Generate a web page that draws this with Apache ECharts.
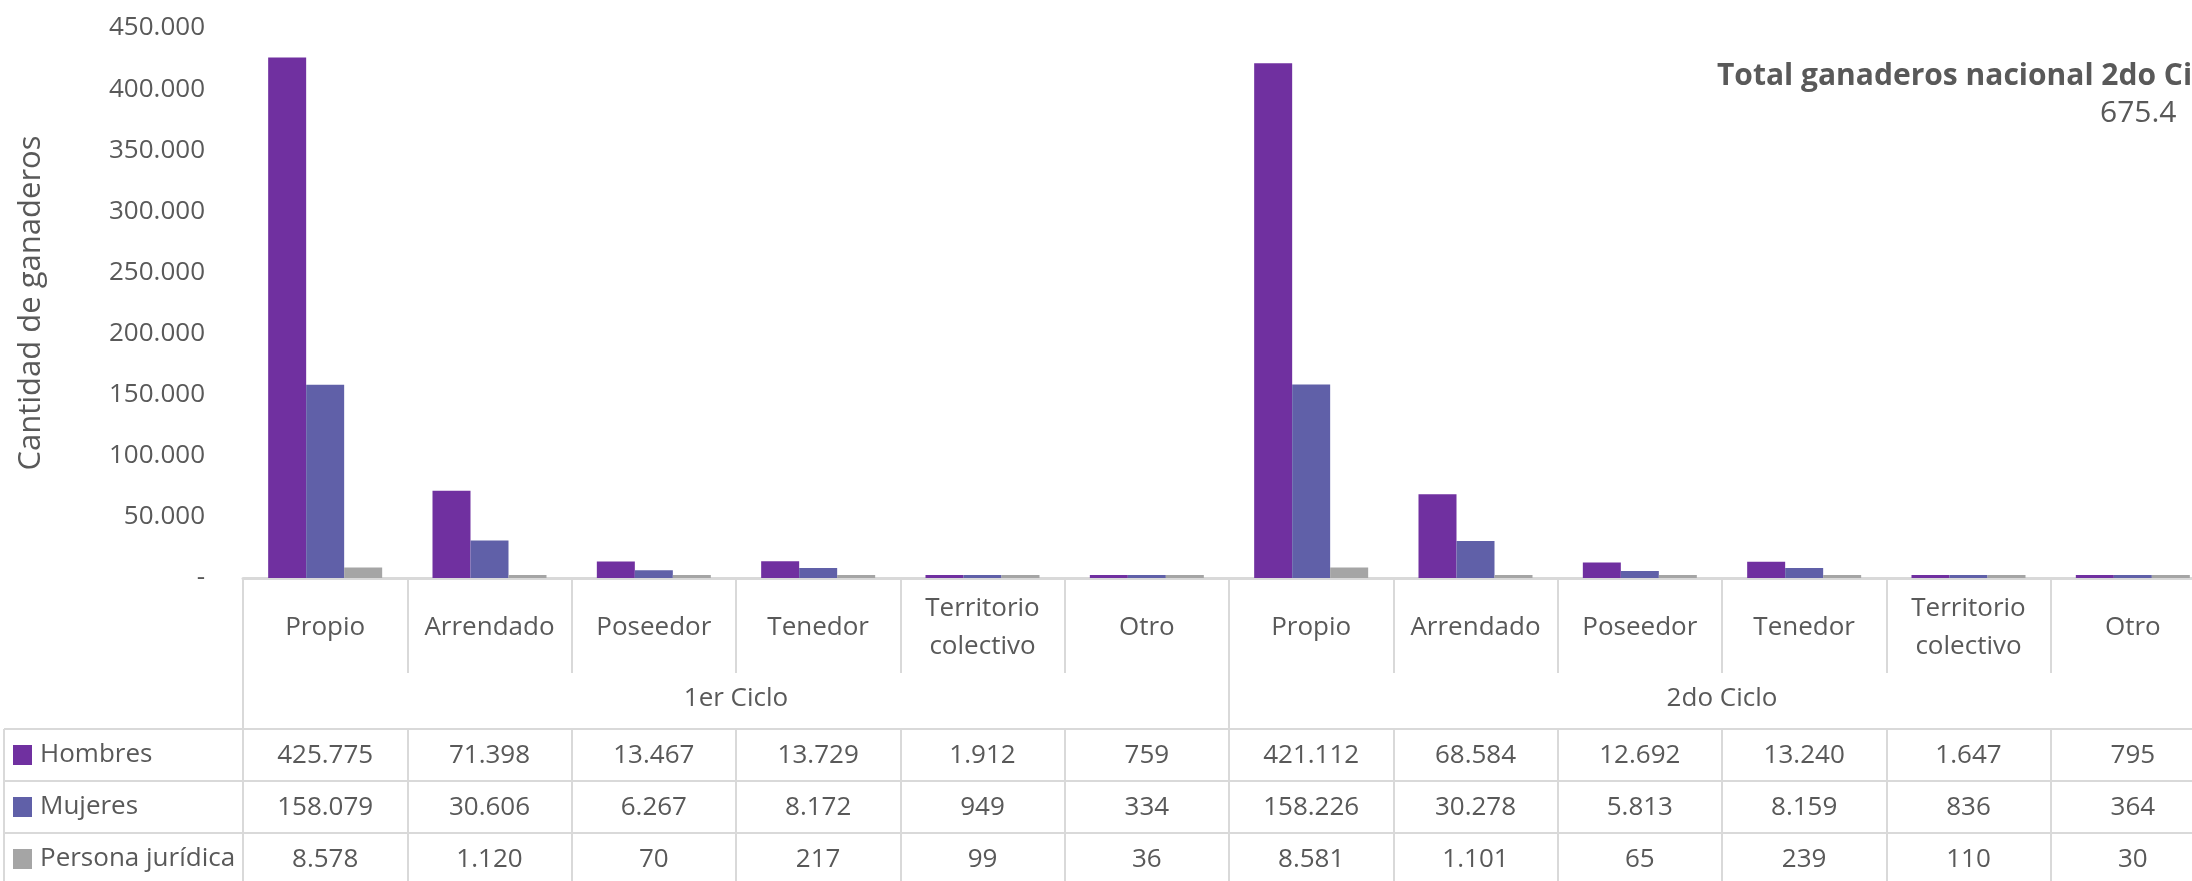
<!DOCTYPE html>
<html>
<head>
<meta charset="utf-8">
<script src="https://cdn.jsdelivr.net/npm/echarts@6/dist/echarts.min.js"></script>
<style>
html,body{margin:0;padding:0;background:#fff;overflow:hidden;}
#chart{width:2240px;height:881px;}
</style>
</head>
<body>
<div id="chart"></div>
<script>
// ---- data ----
const categories = ['Propio','Arrendado','Poseedor','Tenedor','Territorio\ncolectivo','Otro',
                    'Propio','Arrendado','Poseedor','Tenedor','Territorio\ncolectivo','Otro'];
const ciclos = ['1er Ciclo','2do Ciclo'];
const seriesNames = ['Hombres','Mujeres','Persona jurídica'];
const hombres  = [425775,71398,13467,13729,1912,759, 421112,68584,12692,13240,1647,795];
const mujeres  = [158079,30606,6267,8172,949,334, 158226,30278,5813,8159,836,364];
const juridica = [8578,1120,70,217,99,36, 8581,1101,65,239,110,30];
const yMax = 450000;
const yInterval = 50000;
const titleText = 'Total ganaderos nacional 2do Ciclo';
const titleValue = '675.4';
const yName = 'Cantidad de ganaderos';

// ---- styles ----
const colors = ['#7030A0','#6060A8','#A5A5A5'];
const txt = '#595959';
const lineC = '#D9D9D9';
const FONT = 'Open Sans';
const FS = 26;

function fmt(v){ return String(v).replace(/\B(?=(\d{3})+(?!\d))/g,'.'); }

const seriesData = [hombres, mujeres, juridica];

const chart = echarts.init(document.getElementById('chart'));

const axisZero = 578;
const rowTops = [729, 781, 833];
const rowH = 52;

function rowAxis(i){
  return {
    type:'category', gridIndex:0, position:'bottom',
    offset: rowTops[i]-axisZero,
    data: categories.map((c,k)=>String(k)),
    axisLine:{show:true, lineStyle:{color:lineC,width:2}},
    axisTick:{show:true, interval:0, length:rowH+2, lineStyle:{color:lineC,width:2}},
    axisLabel:{show:true, interval:0, margin:27, verticalAlign:'middle',
      color:txt, fontFamily:FONT, fontSize:FS,
      formatter:(v,idx)=>fmt(seriesData[i][idx])},
    splitLine:{show:false}
  };
}

function legendRow(i){
  return {
    orient:'horizontal', left:13, top:rowTops[i]+13, itemWidth:19, itemHeight:20,
    icon:'rect', selectedMode:false, padding:0,
    data:[seriesNames[i]],
    textStyle:{color:txt, fontFamily:FONT, fontSize:FS, lineHeight:26, padding:[0,0,0,3]}
  };
}

const option = {
  animation:false,
  textStyle:{fontFamily:FONT},
  color: colors,
  title:[
    {text:titleText, left:1717, top:58, padding:0,
     textStyle:{fontFamily:FONT,fontWeight:'bold',fontSize:30,color:txt,lineHeight:36}},
    {text:titleValue, left:2100, top:95, padding:0,
     textStyle:{fontFamily:FONT,fontWeight:'normal',fontSize:30,color:txt,lineHeight:36}}
  ],
  legend:[legendRow(0), legendRow(1), legendRow(2)],
  grid:{left:243, right:25, top:28, bottom:303, containLabel:false},
  xAxis:[
    {
      type:'category', gridIndex:0, position:'bottom', data:categories,
      axisLine:{show:true, lineStyle:{color:lineC,width:3}},
      axisTick:{show:true, interval:0, length:95, lineStyle:{color:lineC,width:2}},
      axisLabel:{interval:0, margin:50, verticalAlign:'middle', color:txt,
        fontFamily:FONT, fontSize:FS, lineHeight:38, align:'center'},
      splitLine:{show:false}
    },
    {
      type:'category', gridIndex:0, position:'bottom', data:ciclos,
      axisLine:{show:false},
      axisTick:{show:true, interval:0, length:320, lineStyle:{color:lineC,width:2}},
      axisLabel:{interval:0, margin:121, verticalAlign:'middle', color:txt,
        fontFamily:FONT, fontSize:FS},
      splitLine:{show:false}
    },
    rowAxis(0), rowAxis(1), rowAxis(2)
  ],
  yAxis:{
    type:'value', min:0, max:yMax, interval:yInterval,
    name:yName, nameLocation:'middle', nameGap:196, nameRotate:90,
    nameTextStyle:{color:txt, fontFamily:FONT, fontSize:31},
    axisLine:{show:false}, axisTick:{show:false}, splitLine:{show:false},
    axisLabel:{margin:38, color:txt, fontFamily:FONT, fontSize:FS,
      formatter:v=> v===0 ? '-' : fmt(v)}
  },
  series: seriesNames.map((n,i)=>({
    name:n, type:'bar', xAxisIndex:0, yAxisIndex:0,
    data: seriesData[i], barWidth:38, barGap:'0%', barMinHeight:3,
    itemStyle:{color:colors[i]}
  })),
  graphic:[
    {type:'line', shape:{x1:4,y1:rowTops[0],x2:4,y2:900}, style:{stroke:lineC,lineWidth:2}},
    {type:'line', shape:{x1:4,y1:rowTops[0],x2:243,y2:rowTops[0]}, style:{stroke:lineC,lineWidth:2}},
    {type:'line', shape:{x1:4,y1:rowTops[1],x2:243,y2:rowTops[1]}, style:{stroke:lineC,lineWidth:2}},
    {type:'line', shape:{x1:4,y1:rowTops[2],x2:243,y2:rowTops[2]}, style:{stroke:lineC,lineWidth:2}}
  ]
};
chart.setOption(option);
</script>
</body>
</html>
